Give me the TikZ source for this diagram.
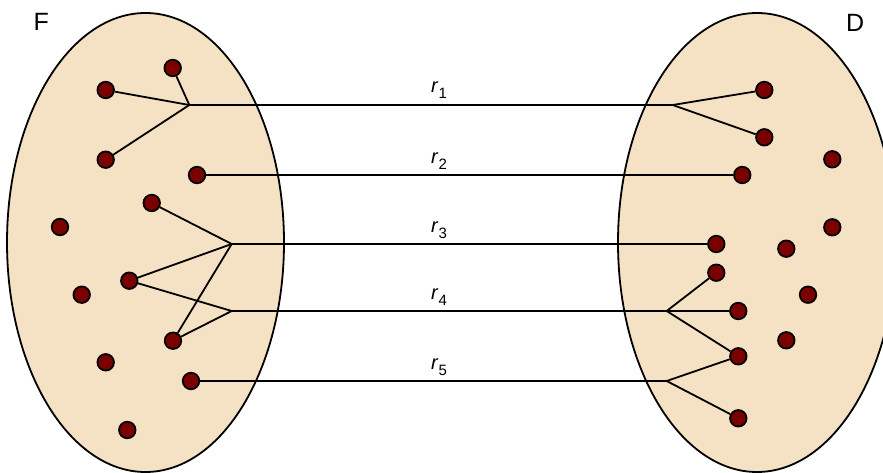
\documentclass[tikz,border=0pt]{standalone}
\usepackage{fontspec}
\setmainfont{Liberation Sans}
\begin{document}
\begin{tikzpicture}[x=1pt,y=-1pt,
  setfill/.style={draw=black, line width=1.8pt, fill=setcol},
  dot/.style={circle, draw=black, line width=1.8pt, fill=dotcol, minimum size=16.5pt, inner sep=0pt},
  link/.style={draw=black, line width=1.8pt},
  rlab/.style={anchor=base, inner sep=0pt, font=\fontsize{20}{20}\selectfont},
  setlab/.style={anchor=base west, inner sep=0pt, font=\fontsize{25}{25}\selectfont}]
\definecolor{setcol}{RGB}{245,225,195}
\definecolor{dotcol}{RGB}{122,0,0}
\useasboundingbox (0,0) rectangle (883,473);
\clip (0,0) rectangle (883,473);
% sets
\path[setfill] (145.5,242.5) ellipse [x radius=138.5, y radius=229.5];
\path[setfill] (757,242.5) ellipse [x radius=139, y radius=229.5];
\node[setlab] (F) at (33.5,31) {F};
\node[setlab] (D) at (846,31.5) {D};
% left dots
\node[dot] (l1) at (172.7,68) {};
\node[dot] (l2) at (105.7,90) {};
\node[dot] (l3) at (105.7,159.7) {};
\node[dot] (l4) at (197,175) {};
\node[dot] (l5) at (151.7,203) {};
\node[dot] (l6) at (60,227) {};
\node[dot] (l7) at (129.3,280.7) {};
\node[dot] (l8) at (81.7,294.7) {};
\node[dot] (l9) at (173,340.7) {};
\node[dot] (l10) at (105.7,362.3) {};
\node[dot] (l11) at (191,381) {};
\node[dot] (l12) at (127.3,430) {};
% right dots
\node[dot] (d1) at (764.3,90) {};
\node[dot] (d2) at (764.3,137.3) {};
\node[dot] (d3) at (742.3,175) {};
\node[dot] (d4) at (832.3,159.3) {};
\node[dot] (d5) at (832.3,227.3) {};
\node[dot] (d6) at (716.3,244) {};
\node[dot] (d7) at (786.3,248.7) {};
\node[dot] (d8) at (716.3,272.7) {};
\node[dot] (d9) at (738.3,311) {};
\node[dot] (d10) at (808,294.7) {};
\node[dot] (d11) at (786.3,340.3) {};
\node[dot] (d12) at (738.3,356.3) {};
\node[dot] (d13) at (738.3,418.3) {};
% junctions
\coordinate (j1l) at (189.3,105);
\coordinate (j1r) at (672.7,105);
\coordinate (j3l) at (231.7,244);
\coordinate (j4l) at (231.7,311);
\coordinate (j4r) at (666.7,311);
\coordinate (j5r) at (666.7,381);
% connectors
\draw[link] (l1) -- (j1l);
\draw[link] (l2) -- (j1l);
\draw[link] (l3) -- (j1l);
\draw[link] (j1l) -- (j1r);
\draw[link] (j1r) -- (d1);
\draw[link] (j1r) -- (d2);
\draw[link] (l4) -- (d3);
\draw[link] (l5) -- (j3l);
\draw[link] (l7) -- (j3l);
\draw[link] (l9) -- (j3l);
\draw[link] (j3l) -- (d6);
\draw[link] (l7) -- (j4l);
\draw[link] (l9) -- (j4l);
\draw[link] (j4l) -- (j4r);
\draw[link] (j4r) -- (d8);
\draw[link] (j4r) -- (d9);
\draw[link] (j4r) -- (d12);
\draw[link] (l11) -- (j5r);
\draw[link] (j5r) -- (d12);
\draw[link] (j5r) -- (d13);
% labels
\node[rlab] (r1) at (439,93) {\textit{r}\raisebox{-6pt}{\fontsize{15}{15}\selectfont 1}};
\node[rlab] (r2) at (439,164) {\textit{r}\raisebox{-6pt}{\fontsize{15}{15}\selectfont 2}};
\node[rlab] (r3) at (439,232) {\textit{r}\raisebox{-6pt}{\fontsize{15}{15}\selectfont 3}};
\node[rlab] (r4) at (439,299) {\textit{r}\raisebox{-6pt}{\fontsize{15}{15}\selectfont 4}};
\node[rlab] (r5) at (439,369) {\textit{r}\raisebox{-6pt}{\fontsize{15}{15}\selectfont 5}};
\end{tikzpicture}
\end{document}
